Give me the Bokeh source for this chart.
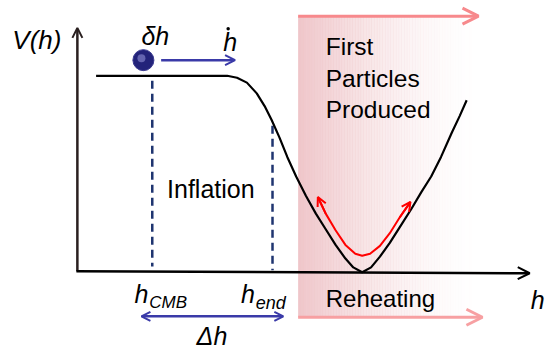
from bokeh.plotting import figure
from bokeh.models import Range1d, Arrow, OpenHead
from bokeh.core.properties import value
from bokeh.embed import file_html
from bokeh.resources import INLINE

# --- data (image-like coordinates: h to the right, V measured downward) ---
curve_h = [97, 150, 200, 230, 240, 250, 260, 268, 275, 283, 291, 300, 310, 320, 330,
           340, 350, 358, 367, 376, 385, 395, 405, 417, 427, 437, 447, 458, 466, 473]
curve_V = [77, 77, 77, 77, 79, 84, 95, 108, 122, 140, 160, 180, 200, 218, 234,
           250, 264, 273, 278, 273, 262, 248, 232, 213, 196, 180, 160, 135, 118, 102]

osc_h = [322, 330, 340, 350, 360, 367, 375, 385, 395, 405, 416]
osc_V = [201, 218, 235, 250, 259, 261, 259, 251, 238, 222, 206]

dash_h = [154, 276]
dash_top = [82, 128]
dash_bot = [272, 276]

region_left, region_right = 302, 495
region_top, region_bot = 16, 324

FONT = "Liberation Sans"

p = figure(width=545, height=350, output_backend="svg", toolbar_location=None,
           x_range=Range1d(0, 553), y_range=Range1d(358, 0), min_border=0)
p.axis.visible = False
p.grid.visible = False
p.outline_line_color = None
p.background_fill_color = "white"

# pink gradient band
n = 70
step = (region_right - region_left) / n
lefts = [region_left + i * step for i in range(n)]
rights = [l + step + 0.5 for l in lefts]
alphas = [max(0.0, 1 - i / (n - 1)) ** 1.8 for i in range(n)]
p.quad(left=lefts, right=rights, top=[region_top] * n, bottom=[region_bot] * n,
       fill_color="#efc6ca", fill_alpha=alphas, line_color=None)

# pink arrows
p.add_layout(Arrow(end=OpenHead(size=16, line_color="#f7898c", line_width=3),
                   x_start=region_left, y_start=region_top, x_end=485, y_end=region_top,
                   line_color="#f7898c", line_width=3))
p.add_layout(Arrow(end=OpenHead(size=16, line_color="#f7a0a2", line_width=3),
                   x_start=region_left, y_start=region_bot, x_end=489, y_end=region_bot,
                   line_color="#f7a0a2", line_width=3))

# axes
p.add_layout(Arrow(end=OpenHead(size=10, line_color="#2a2020", line_width=2),
                   x_start=78, y_start=277, x_end=78, y_end=28,
                   line_color="#2a2020", line_width=2.5))
p.add_layout(Arrow(end=OpenHead(size=12, line_color="black", line_width=2),
                   x_start=77, y_start=277, x_end=537, y_end=279,
                   line_color="black", line_width=2.5))

# dashed lines
p.segment(x0=dash_h, y0=dash_top, x1=dash_h, y1=dash_bot, line_color="#1f3570",
          line_width=2.5, line_dash="8 5")

# potential curve
p.line(curve_h, curve_V, line_color="black", line_width=2.2)

# red oscillation arrow
p.line(osc_h, osc_V, line_color="red", line_width=2)
p.add_layout(Arrow(end=OpenHead(size=9, line_color="red", line_width=2),
                   x_start=osc_h[1], y_start=osc_V[1], x_end=osc_h[0], y_end=osc_V[0],
                   line_color="red", line_width=2))
p.add_layout(Arrow(end=OpenHead(size=9, line_color="red", line_width=2),
                   x_start=osc_h[-2], y_start=osc_V[-2], x_end=osc_h[-1], y_end=osc_V[-1],
                   line_color="red", line_width=2))

# ball and its arrow
p.scatter([145], [61], size=21, fill_color="#23237a", line_color="#3a3a90")
p.scatter([143], [59], size=8, fill_color="#8080c8", fill_alpha=0.7, line_color=None)
p.add_layout(Arrow(end=OpenHead(size=10, line_color="#3a3aa8", line_width=2),
                   x_start=163, y_start=61, x_end=238, y_end=61,
                   line_color="#3a3aa8", line_width=2.5))

# delta h arrow
p.add_layout(Arrow(start=OpenHead(size=9, line_color="#3a3aa8", line_width=2),
                   end=OpenHead(size=9, line_color="#3a3aa8", line_width=2),
                   x_start=143, y_start=323, x_end=287, y_end=323,
                   line_color="#3a3aa8", line_width=2.5))

# texts
def txt(x, y, s, size, style="normal", align="left", baseline="middle"):
    p.text(x=[x], y=[y], text=[s], text_font=value(FONT), text_font_size=f"{size}px",
           text_font_style=style, text_align=align, text_baseline=baseline,
           text_color="black")

txt(12, 40, "V(h)", 26, "italic")
txt(143, 36, "δh", 25, "italic")
txt(226, 42, "h", 25, "italic")
p.scatter([231], [29], size=3.5, fill_color="black", line_color=None)
txt(169, 193, "Inflation", 25)
txt(330, 47, "First", 24.5)
txt(330, 80, "Particles", 24.5)
txt(330, 112, "Produced", 24.5)
txt(330, 305, "Reheating", 24)
txt(136, 300, "h", 25, "italic")
txt(151, 309, "CMB", 17, "italic")
txt(244, 300, "h", 25, "italic")
txt(259, 309, "end", 18, "italic")
txt(199, 343, "Δh", 25, "italic")
txt(538, 306, "h", 25, "italic")

open("out.html", "w").write(file_html(p, INLINE))
